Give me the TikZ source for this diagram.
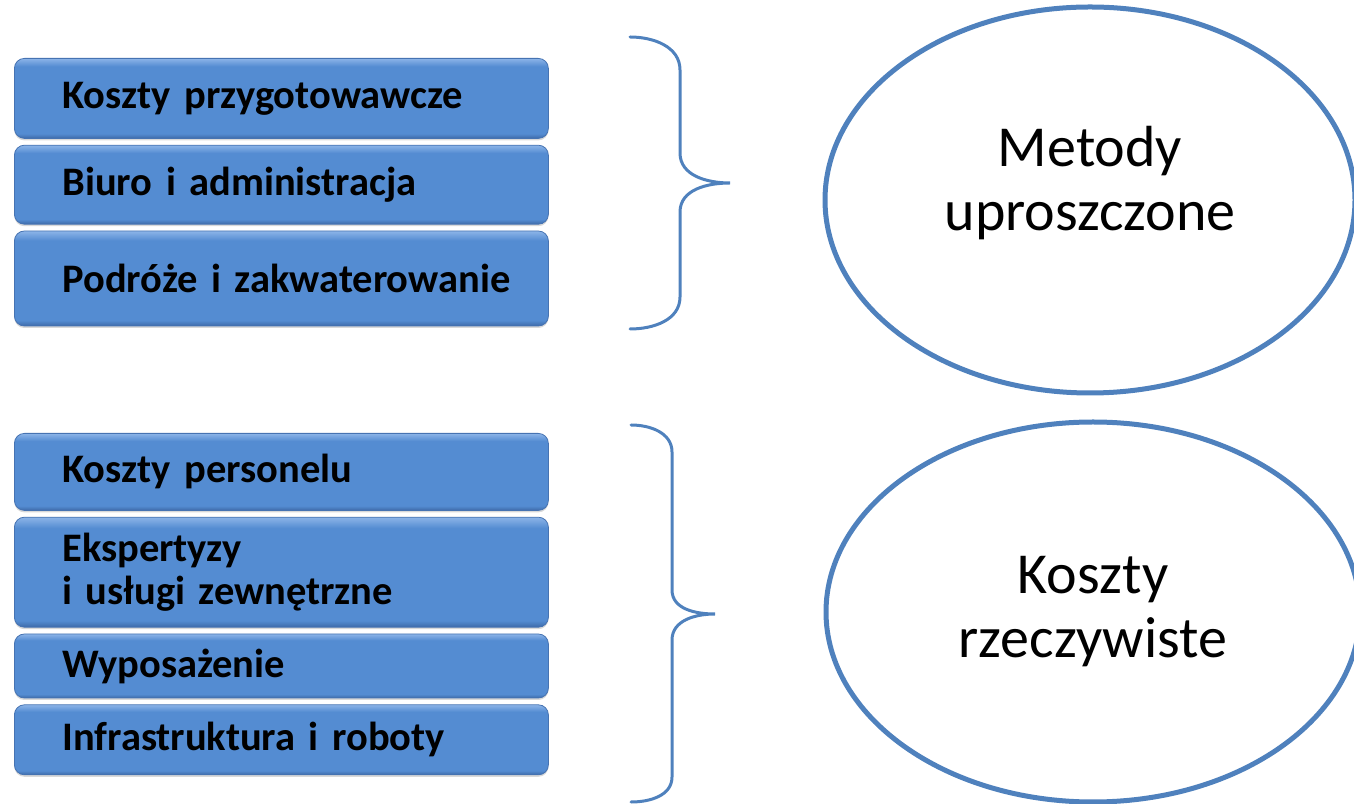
\documentclass[tikz,border=0pt]{standalone}
\usepackage{fontspec}
\setmainfont{Carlito}
\usetikzlibrary{positioning,shapes.geometric,shadows}

\definecolor{boxbody}{RGB}{84,140,210}
\definecolor{boxtop}{RGB}{140,180,232}
\definecolor{boxbot}{RGB}{62,106,168}
\definecolor{boxedge}{RGB}{70,115,178}
\definecolor{linecol}{RGB}{79,129,189}

\pgfdeclareverticalshading{boxshade}{100bp}{color(0bp)=(boxbot); color(25bp)=(boxbot); color(28bp)=(boxbody); color(70bp)=(boxbody); color(75bp)=(boxtop); color(100bp)=(boxtop)}

\def\boxwidth{534pt}
\def\boxgap{6pt}

\begin{document}
\begin{tikzpicture}[x=1pt,y=1pt,node distance=\boxgap]
	\tikzstyle{item}=[rectangle,rounded corners=10pt,draw=boxedge,line width=0.8pt,shade,shading=boxshade,
		drop shadow={shadow xshift=0pt,shadow yshift=-2pt,opacity=0.3},
		minimum width=\boxwidth,text width=474pt,inner xsep=30pt,inner ysep=2pt,align=left,
		execute at begin node={\leftskip=18pt},
		font=\fontsize{40.5}{43}\selectfont\bfseries]
	\tikzstyle{oval}=[ellipse,draw=linecol,line width=5pt,fill=white,inner sep=0pt,align=center,
		font=\fontsize{58}{64}\selectfont]
	\tikzstyle{brace}=[draw=linecol,line width=3pt,line cap=round]
	
	\useasboundingbox (0,0) rectangle (1354,803);
	
	% Draw the upper group of items
	\node[item,minimum height=80pt,anchor=north west] (kp) at (14,745) {Koszty przygotowawcze};
	\node[item,minimum height=79pt,below=of kp] (ba) {Biuro i administracja};
	\node[item,minimum height=95pt,below=of ba] (pz) {Podróże i zakwaterowanie};
	
	% Draw the lower group of items
	\node[item,minimum height=77pt,anchor=north west] (kper) at (14,370) {Koszty personelu};
	\node[item,minimum height=110pt,below=of kper] (eks) {Ekspertyzy\\i usługi zewnętrzne};
	\node[item,minimum height=64pt,below=of eks] (wyp) {Wyposażenie};
	\node[item,minimum height=70pt,below=of wyp] (inf) {Infrastruktura i roboty};
	
	% Draw the ovals
	\node[oval,minimum width=530pt,minimum height=386pt,text depth=43pt] (mu) at (1090,603) {Metody\\uproszczone};
	\node[oval,minimum width=534pt,minimum height=380pt] (kr) at (1093,191) {Koszty\\rzeczywiste};
	
	% Braces next to each group
	\draw[brace] (630,766) to[out=0,in=90] (680,733) -- (680,650) to[out=-90,in=180] (730,620)
		to[out=180,in=90] (680,591) -- (680,506) to[out=-90,in=0] (630,474);
	\draw[brace] (631,378) to[out=0,in=90] (672,351) -- (672,213) to[out=-90,in=180] (715,189)
		to[out=180,in=90] (672,163) -- (672,26) to[out=-90,in=0] (631,1);
\end{tikzpicture}
\end{document}
